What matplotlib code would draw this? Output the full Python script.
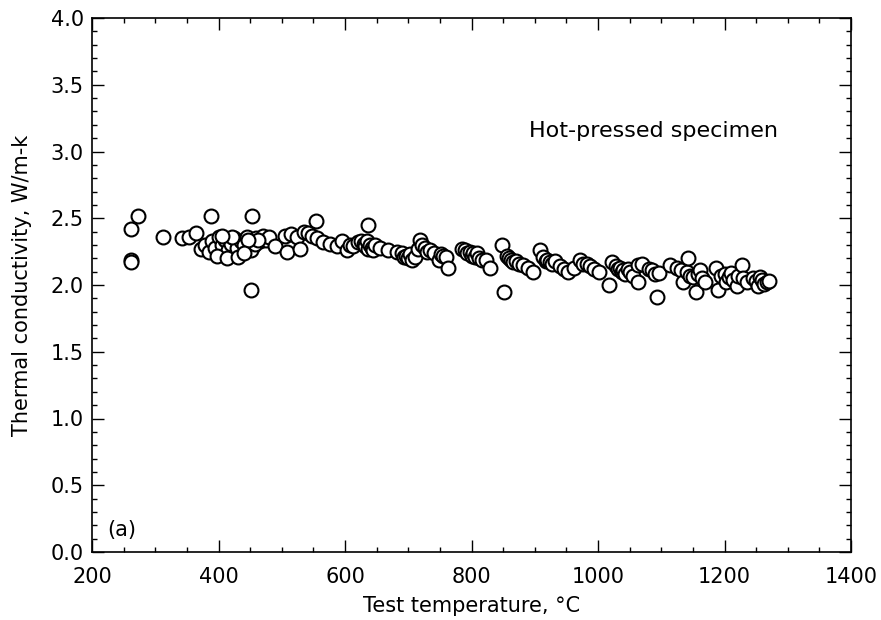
import matplotlib
matplotlib.use("Agg")
import matplotlib.pyplot as plt
from matplotlib.ticker import MultipleLocator

# Test temperature (deg C) and thermal conductivity (W/m-k)
temperature = [
    262, 273, 262, 262, 313, 343, 353, 364, 388, 453, 452, 554,
    372, 378, 385, 390, 395, 400, 405, 410, 415, 420, 425, 430, 435, 440,
    445, 450, 455, 460, 465, 470, 475, 480,
    398, 413, 431, 452, 458, 463, 446, 440, 422, 405,
    489, 505, 508, 515, 524, 529, 535, 542, 548, 555, 566, 577, 587, 595,
    603, 608, 613, 620,
    625, 630, 632, 635, 637, 640, 642, 645, 648, 637,
    655, 668, 682, 690, 693, 697, 700, 703, 706, 710,
    716, 719, 722, 726, 730, 735, 740, 748, 752, 755, 760, 763,
    785, 790, 793, 797, 800, 803, 806, 808, 812, 816, 823, 829,
    849, 851, 856, 860, 863, 866, 870, 875, 882, 890, 897,
    908, 913, 917, 920, 924, 927, 932, 940, 946, 953, 962, 972, 977, 982,
    988, 993, 1001,
    1018, 1022, 1028, 1032, 1035, 1038, 1040, 1043, 1047, 1051, 1055, 1064,
    1064, 1069,
    1080, 1085, 1090, 1093, 1097,
    1114, 1125, 1132, 1135, 1140, 1143, 1146, 1150, 1155, 1158, 1161, 1165,
    1169,
    1187, 1189, 1195, 1200, 1203, 1207, 1210, 1214, 1219, 1222, 1227, 1230,
    1235,
    1245, 1250, 1253, 1256, 1260, 1263, 1267, 1270,
]
conductivity = [
    2.42, 2.52, 2.19, 2.17, 2.36, 2.35, 2.36, 2.39, 2.52, 2.52, 1.96, 2.48,
    2.27, 2.30, 2.25, 2.33, 2.28, 2.36, 2.30, 2.34, 2.26, 2.31, 2.35, 2.28, 2.33, 2.30,
    2.36, 2.32, 2.29, 2.35, 2.33, 2.37, 2.34, 2.36,
    2.22, 2.20, 2.21, 2.26, 2.31, 2.34, 2.34, 2.24, 2.36, 2.37,
    2.29, 2.37, 2.25, 2.38, 2.36, 2.27, 2.40, 2.39, 2.37, 2.35, 2.32, 2.31, 2.29, 2.33,
    2.26, 2.30, 2.29, 2.32,
    2.33, 2.31, 2.29, 2.33, 2.27, 2.30, 2.28, 2.26, 2.30, 2.45,
    2.28, 2.26, 2.25, 2.24, 2.21, 2.22, 2.20, 2.23, 2.19, 2.21,
    2.27, 2.34, 2.30, 2.28, 2.25, 2.26, 2.24, 2.19, 2.23, 2.22, 2.21, 2.13,
    2.27, 2.26, 2.24, 2.25, 2.22, 2.24, 2.21, 2.24, 2.20, 2.19, 2.19, 2.13,
    2.30, 1.95, 2.22, 2.20, 2.19, 2.17, 2.18, 2.16, 2.15, 2.13, 2.10,
    2.26, 2.21, 2.18, 2.19, 2.17, 2.16, 2.18, 2.14, 2.12, 2.10, 2.13, 2.19, 2.16, 2.16,
    2.14, 2.12, 2.10,
    2.00, 2.17, 2.14, 2.12, 2.13, 2.10, 2.11, 2.08, 2.12, 2.10, 2.07, 2.15,
    2.02, 2.16,
    2.12, 2.11, 2.08, 1.91, 2.09,
    2.15, 2.13, 2.11, 2.02, 2.10, 2.20, 2.07, 2.06, 1.95, 2.08, 2.11, 2.05,
    2.02,
    2.13, 1.96, 2.07, 2.08, 2.02, 2.06, 2.09, 2.04, 1.99, 2.07, 2.15, 2.05,
    2.02,
    2.05, 2.03, 1.99, 2.06, 2.04, 2.01, 2.02, 2.03,
]

x_ticks = [200, 400, 600, 800, 1000, 1200, 1400]
y_ticks = [0.0, 0.5, 1.0, 1.5, 2.0, 2.5, 3.0, 3.5, 4.0]

plt.rcParams['font.family'] = ['DejaVu Sans']

fig = plt.figure(figsize=(8.81, 6.20), dpi=100)
ax = fig.add_axes([92 / 881, 1 - 552 / 620, (851 - 92) / 881, (552 - 18) / 620])

ax.scatter(temperature, conductivity, s=100, facecolors='white',
           edgecolors='black', linewidths=1.5, zorder=3)

ax.set_xlim(200, 1400)
ax.set_ylim(0, 4.0)
ax.set_xticks(x_ticks)
ax.set_yticks(y_ticks)
ax.set_xticklabels([str(v) for v in x_ticks])
ax.set_yticklabels([f"{v:.1f}" for v in y_ticks])
ax.xaxis.set_minor_locator(MultipleLocator(50))
ax.yaxis.set_minor_locator(MultipleLocator(0.1))

ax.tick_params(which='both', direction='in', top=True, right=True,
               width=1.0, color='black')
ax.tick_params(which='major', length=8.5)
ax.tick_params(which='minor', length=3.5)
ax.tick_params(axis='x', which='major', labelsize=15, pad=11)
ax.tick_params(axis='y', which='major', labelsize=15, pad=6)

for sp in ax.spines.values():
    sp.set_linewidth(1.2)

ax.set_xlabel('Test temperature, °C', fontsize=15, labelpad=6)
ax.set_ylabel('Thermal conductivity, W/m-k', fontsize=15, labelpad=13)

ax.text(0.576, 0.788, 'Hot-pressed specimen', transform=ax.transAxes,
        fontsize=16, ha='left', va='center')
ax.text(0.02, 0.041, '(a)', transform=ax.transAxes,
        fontsize=15, ha='left', va='center')

fig.savefig('out.png', dpi=100)
